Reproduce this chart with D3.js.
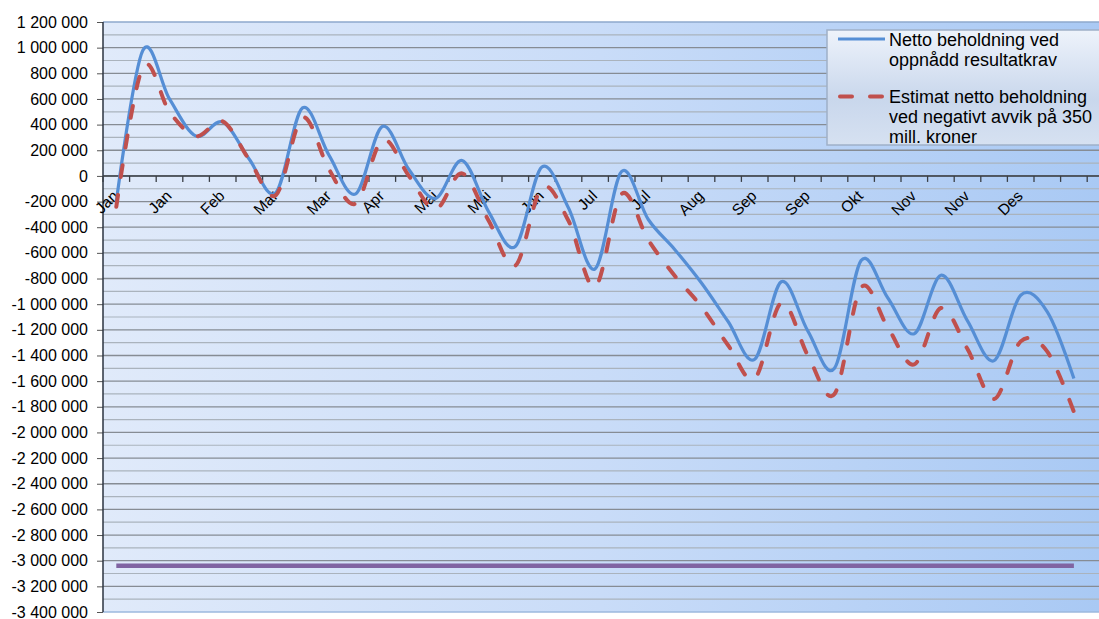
<!DOCTYPE html>
<html>
<head>
<meta charset="utf-8">
<script src="https://cdn.jsdelivr.net/npm/d3@7"></script>
<style>
  body { margin: 0; background: #fff; }
  text { font-family: "Liberation Sans", Arial, sans-serif; fill: #000; }
</style>
</head>
<body>
<div id="chart"></div>
<script>
// --------------------------------------
//  Data
// --------------------------------------

const categories = ["Jan","Jan","Jan","Feb","Feb","Mar","Mar","Mar","Mar","Apr","Apr","Apr",
  "Mai","Mai","Mai","Jun","Jun","Jun","Jul","Jul","Jul","Aug","Aug","Sep","Sep","Sep","Sep",
  "Okt","Okt","Nov","Nov","Nov","Nov","Des","Des","Des","Des"];

const netto = [-200000, 980000, 600000, 310000, 420000, 130000, -130000, 530000, 160000,
  -140000, 385000, 50000, -175000, 120000, -280000, -550000, 70000, -250000, -725000,
  35000, -340000, -575000, -835000, -1135000, -1430000, -825000, -1210000, -1500000,
  -660000, -950000, -1230000, -775000, -1130000, -1440000, -930000, -1060000, -1580000];

const estimat = [-240000, 850000, 500000, 310000, 425000, 125000, -150000, 455000, 50000,
  -215000, 280000, 0, -260000, 20000, -350000, -700000, -90000, -350000, -865000,
  -140000, -500000, -780000, -1020000, -1320000, -1580000, -990000, -1400000, -1700000,
  -870000, -1180000, -1470000, -1030000, -1350000, -1740000, -1290000, -1370000, -1840000];

const grense = [-3040000, -3040000, -3040000, -3040000, -3040000, -3040000, -3040000,
  -3040000, -3040000, -3040000, -3040000, -3040000, -3040000, -3040000, -3040000,
  -3040000, -3040000, -3040000, -3040000, -3040000, -3040000, -3040000, -3040000,
  -3040000, -3040000, -3040000, -3040000, -3040000, -3040000, -3040000, -3040000,
  -3040000, -3040000, -3040000, -3040000, -3040000, -3040000];

const legendLabels = [
  ["Netto beholdning ved", "oppnådd resultatkrav"],
  ["Estimat netto beholdning", "ved negativt avvik på 350", "mill. kroner"]
];

// --------------------------------------
//  Canvas
// --------------------------------------

const width = 1099, height = 619;
const plot = { left: 103, top: 22, right: 1099, bottom: 612 };

const svg = d3.select("#chart")
  .append("svg")
    .attr("width", width)
    .attr("height", height);

const defs = svg.append("defs");

const bg = defs.append("linearGradient").attr("id", "bg")
    .attr("x1", 0).attr("y1", 0).attr("x2", 1).attr("y2", 0);
bg.append("stop").attr("offset", 0).attr("stop-color", "#e0eafa");
bg.append("stop").attr("offset", 0.5).attr("stop-color", "#c9dcf8");
bg.append("stop").attr("offset", 1).attr("stop-color", "#a9c9f4");

const lg = defs.append("linearGradient").attr("id", "lg")
    .attr("x1", 0).attr("y1", 0).attr("x2", 0).attr("y2", 1);
lg.append("stop").attr("offset", 0).attr("stop-color", "#eef3fb");
lg.append("stop").attr("offset", 0.6).attr("stop-color", "#c9d7ec");
lg.append("stop").attr("offset", 1).attr("stop-color", "#d6e1f1");

defs.append("clipPath").attr("id", "legclip")
  .append("rect").attr("x", 827).attr("y", 30).attr("width", 300).attr("height", 115);

// --------------------------------------
//  Scales
// --------------------------------------

const x = d3.scaleBand()
    .domain(d3.range(categories.length))
    .range([plot.left, plot.left + categories.length * 26.6]);

const y = d3.scaleLinear()
    .domain([-3400000, 1200000])
    .range([plot.bottom, plot.top]);

const cx = i => x(i) + x.bandwidth() / 2;

// --------------------------------------
//  Plot area and gridlines
// --------------------------------------

svg.append("rect")
    .attr("x", plot.left).attr("y", plot.top)
    .attr("width", plot.right - plot.left)
    .attr("height", plot.bottom - plot.top)
    .attr("fill", "url(#bg)");

svg.append("g")
  .selectAll("line")
  .data(d3.range(-3300000, 1200000, 200000))
  .join("line")
    .attr("x1", plot.left).attr("x2", plot.right)
    .attr("y1", d => y(d)).attr("y2", d => y(d))
    .attr("stroke", "#aab3bd").attr("stroke-width", 1.2);

svg.append("g")
  .selectAll("line")
  .data(d3.range(-3200000, 1200000, 200000))
  .join("line")
    .attr("x1", plot.left).attr("x2", plot.right)
    .attr("y1", d => y(d)).attr("y2", d => y(d))
    .attr("stroke", "#868c94").attr("stroke-width", 1.3);

svg.append("line")
    .attr("x1", plot.left).attr("x2", plot.right)
    .attr("y1", plot.top).attr("y2", plot.top)
    .attr("stroke", "#8ea8cc").attr("stroke-width", 1.5);

svg.append("line")
    .attr("x1", plot.left).attr("x2", plot.right)
    .attr("y1", plot.bottom).attr("y2", plot.bottom)
    .attr("stroke", "#9db8de").attr("stroke-width", 1.5);

// --------------------------------------
//  Axes
// --------------------------------------

const locale = d3.formatLocale({ decimal: ",", thousands: " ", grouping: [3], currency: ["", ""], minus: "-" });
const fmt = locale.format(",");

const yAxis = svg.append("g")
    .attr("transform", `translate(${plot.left},0)`)
    .call(d3.axisLeft(y)
      .tickValues(d3.range(-3400000, 1200001, 200000))
      .tickSize(6)
      .tickPadding(9)
      .tickFormat(d => fmt(d)));
yAxis.select(".domain").remove();
yAxis.selectAll(".tick line").attr("stroke", "#555");
yAxis.selectAll(".tick text")
    .attr("font-size", 16)
    .attr("font-family", "Liberation Sans, Arial, sans-serif")
    .attr("fill", "#000");

svg.append("line")
    .attr("x1", plot.left).attr("x2", plot.left)
    .attr("y1", plot.top).attr("y2", plot.bottom)
    .attr("stroke", "#2b3340").attr("stroke-width", 1.5);

// category axis at zero
svg.append("line")
    .attr("x1", plot.left).attr("x2", plot.right)
    .attr("y1", y(0)).attr("y2", y(0))
    .attr("stroke", "#3a3f46").attr("stroke-width", 1.5);

svg.append("g")
  .selectAll("line")
  .data(d3.range(categories.length + 1))
  .join("line")
    .attr("x1", i => i < categories.length ? x(i) : x.range()[1])
    .attr("x2", i => i < categories.length ? x(i) : x.range()[1])
    .attr("y1", y(0)).attr("y2", y(0) + 6)
    .attr("stroke", "#3a3f46").attr("stroke-width", 1.3);

// every second category gets a label, rotated 45 degrees
const shownLabels = categories
    .map((c, i) => ({ c, i }))
    .filter(d => d.i % 2 === 0 && d.i < categories.length - 1);

svg.append("g")
  .selectAll("text")
  .data(shownLabels)
  .join("text")
    .attr("transform", d => `translate(${cx(d.i) + 3},${y(0) + 21}) rotate(-45)`)
    .attr("text-anchor", "end")
    .attr("font-size", 15.5)
    .text(d => d.c);

// --------------------------------------
//  Lines
// --------------------------------------

const line = d3.line()
    .x((d, i) => cx(i))
    .y(d => y(d))
    .curve(d3.curveCardinal.tension(0));

svg.append("path")
    .datum(netto)
    .attr("d", line)
    .attr("fill", "none")
    .attr("stroke", "#558ed5")
    .attr("stroke-width", 3.2)
    .attr("stroke-linejoin", "round");

svg.append("path")
    .datum(estimat)
    .attr("d", line)
    .attr("fill", "none")
    .attr("stroke", "#c0504d")
    .attr("stroke-width", 4)
    .attr("stroke-dasharray", "12 18")
    .attr("stroke-linecap", "round");

svg.append("path")
    .datum(grense)
    .attr("d", d3.line().x((d, i) => cx(i)).y(d => y(d)))
    .attr("fill", "none")
    .attr("stroke", "#8064a2")
    .attr("stroke-width", 4.5);

// --------------------------------------
//  Legend
// --------------------------------------

const legend = svg.append("g");

legend.append("rect")
    .attr("x", 827).attr("y", 30)
    .attr("width", 300).attr("height", 115)
    .attr("fill", "url(#lg)");

const legText = legend.append("g").attr("clip-path", "url(#legclip)");

legend.append("line")
    .attr("x1", 838).attr("x2", 885).attr("y1", 39).attr("y2", 39)
    .attr("stroke", "#558ed5").attr("stroke-width", 3.2);

legend.append("line")
    .attr("x1", 840).attr("x2", 885).attr("y1", 96.5).attr("y2", 96.5)
    .attr("stroke", "#c0504d").attr("stroke-width", 4)
    .attr("stroke-dasharray", "12 18")
    .attr("stroke-linecap", "round");

const legTop = [45.5, 102.5];
legendLabels.forEach((lines, k) => {
  legText.selectAll(null)
    .data(lines)
    .join("text")
      .attr("x", 889)
      .attr("y", (d, j) => legTop[k] + j * 20)
      .attr("font-size", 18)
      .text(d => d);
});

legend.append("rect")
    .attr("x", 827).attr("y", 30)
    .attr("width", 300).attr("height", 115)
    .attr("fill", "none")
    .attr("stroke", "#9fb0c8")
    .attr("stroke-width", 1.5);
</script>
</body>
</html>
